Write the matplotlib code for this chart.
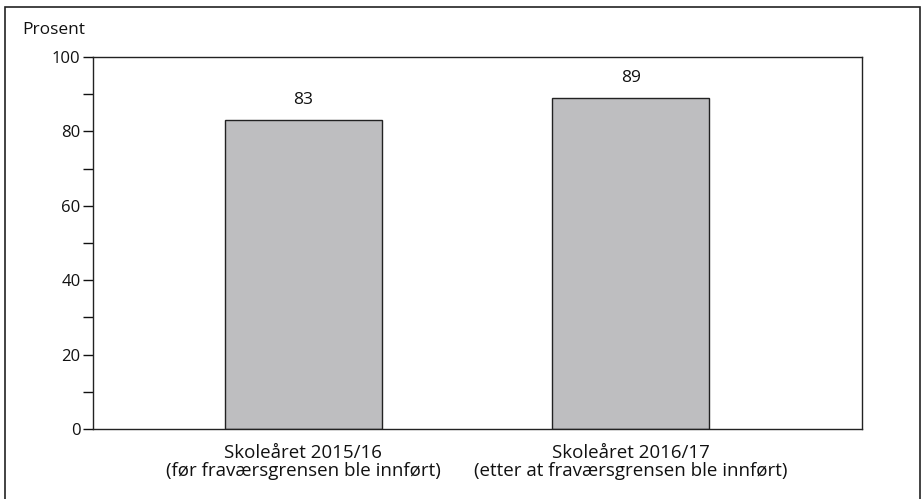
import matplotlib
matplotlib.use("Agg")
import matplotlib.pyplot as plt
from matplotlib.patches import Rectangle
from matplotlib.ticker import MultipleLocator

categories = ["Skoleåret 2015/16\n(før fraværsgrensen ble innført)",
              "Skoleåret 2016/17\n(etter at fraværsgrensen ble innført)"]
values = [83, 89]
value_labels = ["83", "89"]

plt.rcParams['font.family'] = ['Open Sans', 'DejaVu Sans']

W, H = 921, 499
fig = plt.figure(figsize=(W/100, H/100), dpi=100)
ax = fig.add_axes([93/W, 1 - 429/H, (862-93)/W, (429-57)/H])

x = list(range(len(values)))
ax.bar(x, values, width=0.48, color='#bebec0', edgecolor='#222222', linewidth=1.0)
for xi, v, lab in zip(x, values, value_labels):
    ax.text(xi, v + 3.2, lab, ha='center', va='bottom', fontsize=12.5, color='#111111')

ax.set_ylim(0, 100)
ax.set_xlim(-0.642, 1.706)
ax.yaxis.set_major_locator(MultipleLocator(20))
ax.yaxis.set_minor_locator(MultipleLocator(10))
ax.tick_params(axis='y', which='both', direction='out', length=7, width=1, labelsize=12, colors='#111111', pad=2)
ax.set_xticks(x)
ax.set_xticklabels(categories, fontsize=13.5, linespacing=0.98, color='#111111')
ax.tick_params(axis='x', length=0, pad=11)
for s in ax.spines.values():
    s.set_color('#222222')
    s.set_linewidth(1.0)

fig.text(22/W, 1 - 30/H, "Prosent", ha='left', va='center', fontsize=12.5, color='#111111')

fig.patches.append(Rectangle((5/W, -0.05), (920-5)/W, 1 - 7/H + 0.05, transform=fig.transFigure,
                             fill=False, edgecolor='#222222', linewidth=1.2))

fig.savefig("out.png", dpi=100)
